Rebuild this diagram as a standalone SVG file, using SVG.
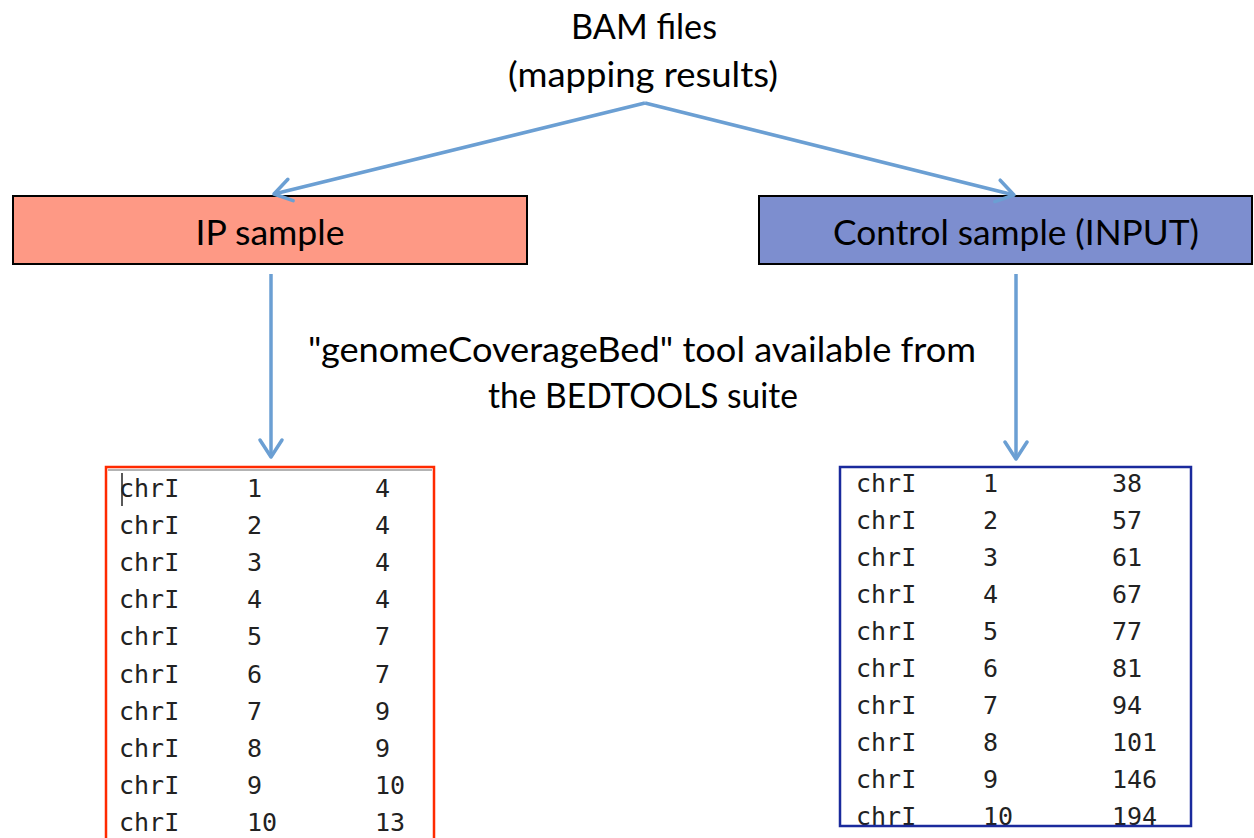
<svg xmlns="http://www.w3.org/2000/svg" width="1254" height="838" viewBox="0 0 1254 838">
  <style>
    .label { font-family: "Lato", "Open Sans", "Liberation Sans", sans-serif; font-size: 34px; fill: #000; text-anchor: middle; }
    .mono { font-family: "DejaVu Sans Mono", "Liberation Mono", monospace; font-size: 25px; fill: #222; }
    .edge { fill: none; stroke: #6b9fd3; stroke-width: 3.5; }
  </style>
  <defs>
    <marker id="open-arrow" viewBox="-22 -14 26 28" refX="0" refY="0" markerWidth="26" markerHeight="28" markerUnits="userSpaceOnUse" orient="auto">
      <path d="M -17 -11 L 0 0 L -17 11" fill="none" stroke="#6b9fd3" stroke-width="3.5" stroke-linecap="round" stroke-linejoin="round"/>
    </marker>
    <clipPath id="clip-input">
      <rect x="841" y="467" width="350" height="358"/>
    </clipPath>
    <clipPath id="clip-ip">
      <rect x="106" y="467" width="328" height="371"/>
    </clipPath>
  </defs>

  <rect width="1254" height="838" fill="#fff"/>

  <!-- source: mapping output -->
  <g id="bam-files">
    <text class="label" x="644" y="39" textLength="146" lengthAdjust="spacingAndGlyphs">BAM files</text>
    <text class="label" x="643" y="87" textLength="270" lengthAdjust="spacingAndGlyphs">(mapping results)</text>
  </g>

  <!-- sample boxes -->
  <g id="ip-sample">
    <rect x="13" y="196" width="514" height="68" fill="#fe9985" stroke="#000" stroke-width="2"/>
    <text class="label" x="270" y="245" textLength="149" lengthAdjust="spacingAndGlyphs">IP sample</text>
  </g>
  <g id="control-sample">
    <rect x="759" y="196" width="493" height="68" fill="#7d8ecf" stroke="#000" stroke-width="2"/>
    <text class="label" x="1016" y="245" textLength="366" lengthAdjust="spacingAndGlyphs">Control sample (INPUT)</text>
  </g>

  <!-- processing step -->
  <g id="tool-note">
    <text class="label" x="642" y="362" textLength="668" lengthAdjust="spacingAndGlyphs">"genomeCoverageBed" tool available from</text>
    <text class="label" x="643" y="408" textLength="310" lengthAdjust="spacingAndGlyphs">the BEDTOOLS suite</text>
  </g>

  <!-- connectors -->
  <g id="connectors">
    <path class="edge" d="M 645 103 L 274 194" marker-end="url(#open-arrow)"/>
    <path class="edge" d="M 645 103 L 1014 195" marker-end="url(#open-arrow)"/>
    <path class="edge" d="M 271 274 L 271 457" marker-end="url(#open-arrow)"/>
    <path class="edge" d="M 1016 274 L 1016 459" marker-end="url(#open-arrow)"/>
  </g>

  <!-- IP coverage table -->
  <g id="ip-coverage">
    <rect x="106" y="467" width="328" height="380" fill="#fff" stroke="#ff2a00" stroke-width="2.5"/>
    <line x1="108" y1="470" x2="432" y2="470" stroke="#9a9a9a" stroke-width="1.5"/>
    <line x1="122" y1="473" x2="122" y2="506" stroke="#222" stroke-width="1.5"/>
    <g clip-path="url(#clip-ip)">
      <text class="mono" y="497"><tspan x="119">chrI</tspan><tspan x="247">1</tspan><tspan x="375">4</tspan></text>
      <text class="mono" y="534"><tspan x="119">chrI</tspan><tspan x="247">2</tspan><tspan x="375">4</tspan></text>
      <text class="mono" y="571"><tspan x="119">chrI</tspan><tspan x="247">3</tspan><tspan x="375">4</tspan></text>
      <text class="mono" y="608"><tspan x="119">chrI</tspan><tspan x="247">4</tspan><tspan x="375">4</tspan></text>
      <text class="mono" y="645"><tspan x="119">chrI</tspan><tspan x="247">5</tspan><tspan x="375">7</tspan></text>
      <text class="mono" y="683"><tspan x="119">chrI</tspan><tspan x="247">6</tspan><tspan x="375">7</tspan></text>
      <text class="mono" y="720"><tspan x="119">chrI</tspan><tspan x="247">7</tspan><tspan x="375">9</tspan></text>
      <text class="mono" y="757"><tspan x="119">chrI</tspan><tspan x="247">8</tspan><tspan x="375">9</tspan></text>
      <text class="mono" y="794"><tspan x="119">chrI</tspan><tspan x="247">9</tspan><tspan x="375">10</tspan></text>
      <text class="mono" y="831"><tspan x="119">chrI</tspan><tspan x="247">10</tspan><tspan x="375">13</tspan></text>
    </g>
  </g>

  <!-- INPUT coverage table -->
  <g id="input-coverage">
    <rect x="840" y="467" width="351" height="359" fill="#fff"/>
    <g clip-path="url(#clip-input)">
      <text class="mono" y="492"><tspan x="856">chrI</tspan><tspan x="983">1</tspan><tspan x="1112">38</tspan></text>
      <text class="mono" y="529"><tspan x="856">chrI</tspan><tspan x="983">2</tspan><tspan x="1112">57</tspan></text>
      <text class="mono" y="566"><tspan x="856">chrI</tspan><tspan x="983">3</tspan><tspan x="1112">61</tspan></text>
      <text class="mono" y="603"><tspan x="856">chrI</tspan><tspan x="983">4</tspan><tspan x="1112">67</tspan></text>
      <text class="mono" y="640"><tspan x="856">chrI</tspan><tspan x="983">5</tspan><tspan x="1112">77</tspan></text>
      <text class="mono" y="677"><tspan x="856">chrI</tspan><tspan x="983">6</tspan><tspan x="1112">81</tspan></text>
      <text class="mono" y="714"><tspan x="856">chrI</tspan><tspan x="983">7</tspan><tspan x="1112">94</tspan></text>
      <text class="mono" y="751"><tspan x="856">chrI</tspan><tspan x="983">8</tspan><tspan x="1112">101</tspan></text>
      <text class="mono" y="788"><tspan x="856">chrI</tspan><tspan x="983">9</tspan><tspan x="1112">146</tspan></text>
      <text class="mono" y="825"><tspan x="856">chrI</tspan><tspan x="983">10</tspan><tspan x="1112">194</tspan></text>
    </g>
    <rect x="840" y="467" width="351" height="359" fill="none" stroke="#1a2a9c" stroke-width="2.5"/>
  </g>
</svg>
